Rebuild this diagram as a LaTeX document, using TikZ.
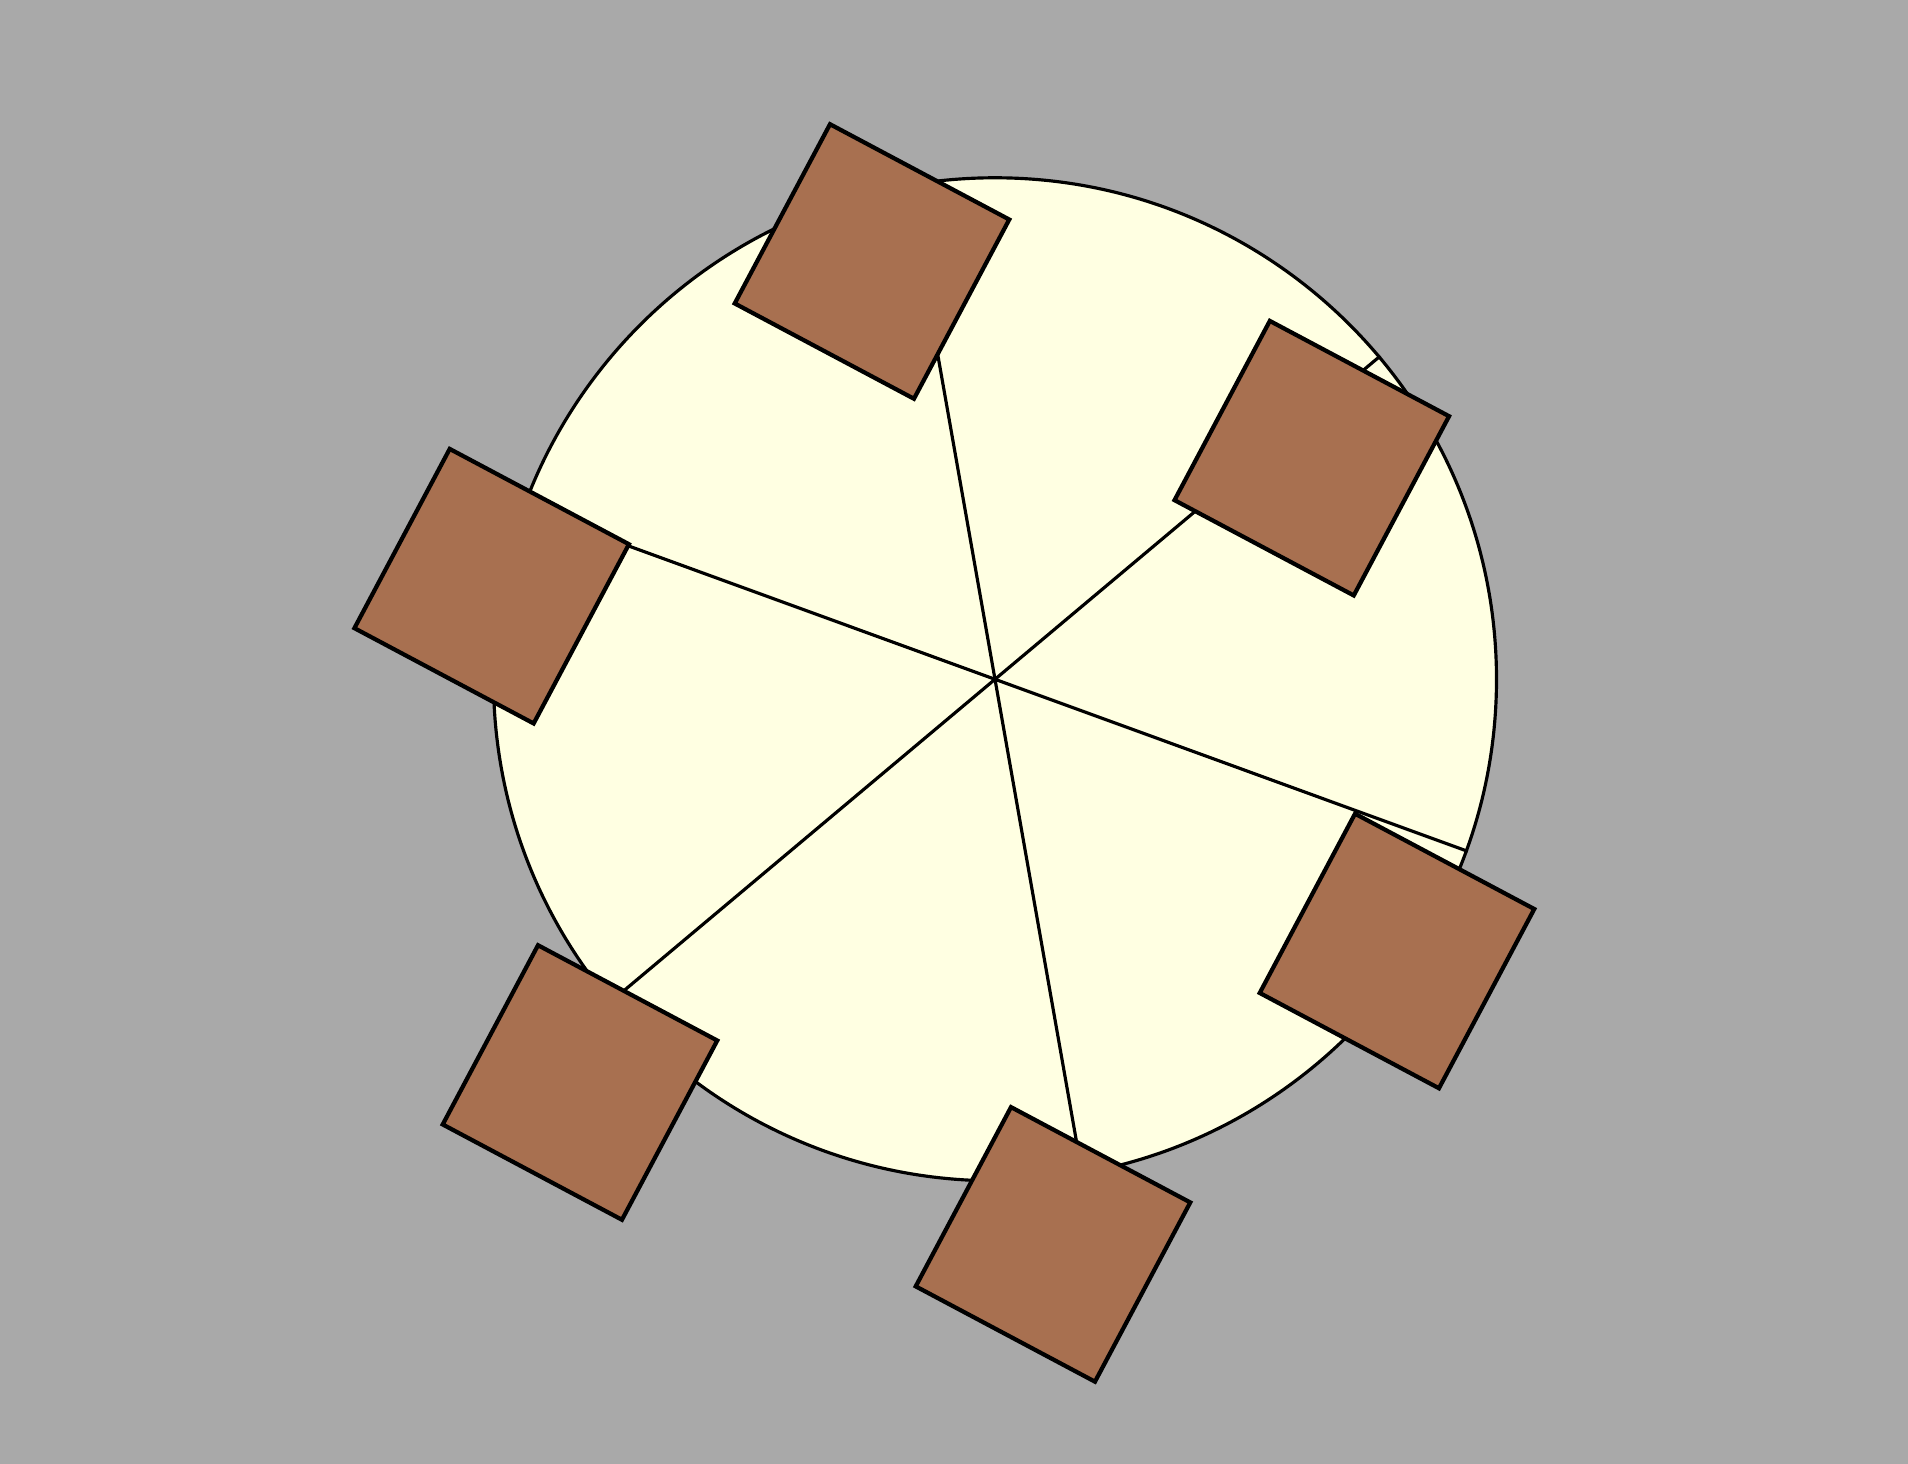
\documentclass[tikz,border=0pt]{standalone}
\usetikzlibrary{positioning}
\definecolor{floorgray}{HTML}{A9A9A9}
\definecolor{tabletop}{HTML}{FFFFE2}
\definecolor{chairbrown}{HTML}{A87050}

\begin{document}
\begin{tikzpicture}[
  tablebox/.style={circle, draw=black, line width=0.9pt, fill=tabletop, minimum size=10.03cm, inner sep=0pt},
  spoke/.style={black, line width=0.9pt},
  chair/.style={rectangle, draw=black, line width=1.2pt, fill=chairbrown, minimum size=2.03cm, inner sep=0pt, rotate=-28}
]

% Background
\fill[floorgray] (-9.95,-7.847) rectangle (9.13,6.793);
\useasboundingbox (-9.95,-7.847) rectangle (9.13,6.793);

% Table
\node[tablebox] (table) at (0,0) {};

% Spokes
\foreach \a in {40,100,160,220,280,340}
  \draw[spoke] (table.center) -- (table.\a);

% --- Chairs ---
\node[chair] (chairN)  at (-1.23,4.178) {};
\node[chair] (chairNE) at (3.168,2.211) {};
\node[chair] (chairW)  at (-5.033,0.931) {};
\node[chair] (chairSE) at (4.02,-2.717) {};
\node[chair] (chairSW) at (-4.15,-4.032) {};
\node[chair] (chairS)  at (0.58,-5.651) {};

\end{tikzpicture}
\end{document}
